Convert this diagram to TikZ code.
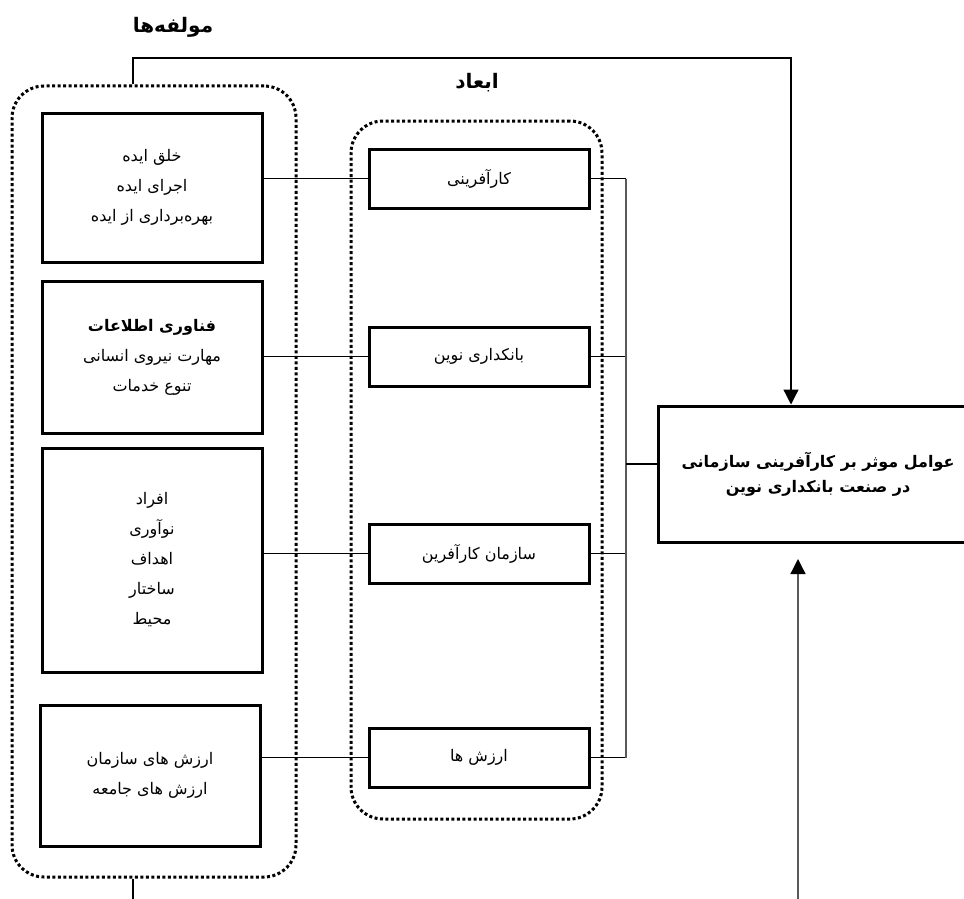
\documentclass[tikz,border=0pt]{standalone}
\usepackage{fontspec}
\newfontfamily\arabicfont[Script=Arabic]{DejaVu Sans}
\TeXXeTstate=1
\usetikzlibrary{positioning,arrows.meta}
\newcommand{\rtl}[1]{\beginR #1\endR}
\tikzstyle{item} = [rectangle, draw, line width=3pt, minimum width=220pt,
    align=center, inner sep=0pt, font=\arabicfont\fontsize{16}{30}\selectfont]
\tikzstyle{dim} = [item, minimum height=59pt]
\tikzstyle{group} = [rectangle, draw, line width=3pt, dash pattern=on 3pt off 2.5pt,
    rounded corners=32pt]
\tikzstyle{title} = [font=\arabicfont\bfseries\fontsize{20}{24}\selectfont]
\tikzstyle{line} = [draw, line width=1.3pt]
\tikzstyle{arrow} = [line, -{Triangle[width=15pt,length=15pt,color=black]}]

\begin{document}
\begin{tikzpicture}[x=1pt, y=-1pt]
    \useasboundingbox (0,0) rectangle (964,899);
    % Groups
    \node [group, minimum width=284pt, minimum height=791pt] (comp) at (154,481.5) {};
    \node [title] (compt) at (173,27) {\rtl{مولفه‌ها}};
    \node [group, minimum width=251pt, minimum height=698pt] (dims) at (476.5,470) {};
    \node [title] (dimst) at (477,83) {\rtl{ابعاد}};

    % Components
    \node [item, minimum height=149pt] (l1) at (152,187.5)
        {\rtl{خلق ایده}\\ \rtl{اجرای ایده}\\ \rtl{بهره‌برداری از ایده}};
    \node [item, minimum height=152pt, below=16pt of l1] (l2)
        {\rtl{\bfseries فناوری اطلاعات}\\ \rtl{مهارت نیروی انسانی}\\ \rtl{تنوع خدمات}};
    \node [item, minimum height=224pt, below=12pt of l2] (l3)
        {\rtl{افراد}\\ \rtl{نوآوری}\\ \rtl{اهداف}\\ \rtl{ساختار}\\ \rtl{محیط}};
    \node [item, minimum height=141pt, below=30pt of l3, xshift=-2pt] (l4)
        {\rtl{ارزش های سازمان}\\ \rtl{ارزش های جامعه}};

    % Dimensions
    \node [dim] (m1) at (479,178.5) {\rtl{کارآفرینی}};
    \node [dim, below=116pt of m1] (m2) {\rtl{بانکداری نوین}};
    \node [dim, below=135pt of m2] (m3) {\rtl{سازمان کارآفرین}};
    \node [dim, below=142pt of m3] (m4) {\rtl{ارزش ها}};

    % Goal
    \node [item, minimum width=320pt, minimum height=136pt,
        font=\arabicfont\bfseries\fontsize{16}{25}\selectfont] (goal) at (818,474)
        {\rtl{عوامل موثر بر کارآفرینی سازمانی}\\ \rtl{در صنعت بانکداری نوین}};

    % Draw edges
    \coordinate (bus) at (626,464);
    \coordinate (up) at (133,58);
    \coordinate (down) at (791,58);
    \coordinate (tail) at (133,899);
    \coordinate (feed) at (798,899);
    \coordinate (feedtip) at (798,559);
    \foreach \i in {1,...,4} {
        \path [line] (m\i.west) -- (m\i.west -| l\i.east);
        \path [line] (m\i.east) -- (m\i.east -| bus);
    }
    \draw [line, gray!70!black] (m1.east -| bus) -- (m4.east -| bus);
    \path [line] (bus) -- (bus -| goal.west);

    \path [arrow] (up |- comp.north) -- (up) -- (down) -- (down |- goal.north);
    \path [line] (up |- comp.south) -- (tail);
    \draw [arrow, gray!70!black] (feed) -- (feedtip);

\end{tikzpicture}
\end{document}
